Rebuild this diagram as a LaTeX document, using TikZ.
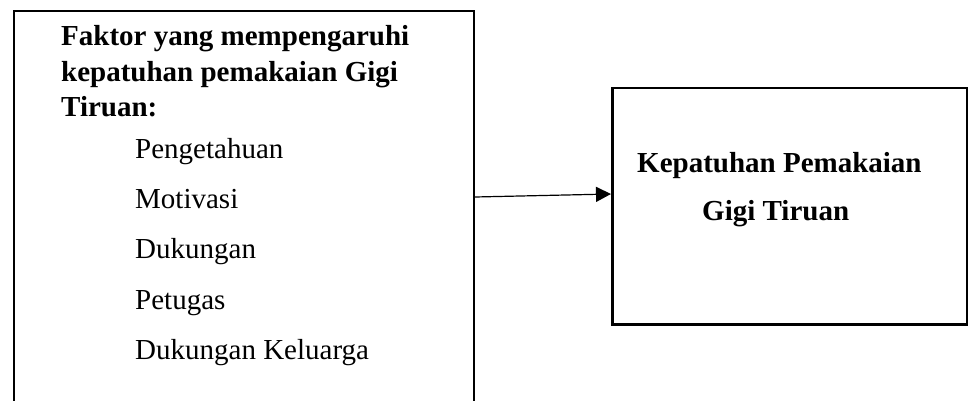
\documentclass[tikz,border=0pt]{standalone}
\usepackage{fontspec}
\setmainfont{Liberation Serif}
\usetikzlibrary{arrows.meta,calc}
\begin{document}
\begin{tikzpicture}[x=1pt,y=1pt,
  box/.style={draw=black,line width=2.5pt,rectangle,inner sep=0pt,anchor=north west},
  txt/.style={anchor=base west,inner sep=0pt,font=\fontsize{29}{35}\selectfont},
  btxt/.style={txt,font=\fontsize{29}{35}\selectfont\bfseries},
  conn/.style={line width=1.2pt,-{Triangle[length=15pt,width=15pt]}}]
\useasboundingbox (0,0) rectangle (968,-401);
\clip (0,0) rectangle (968,-401);
\node[box,minimum width=460pt,minimum height=430pt] (L) at (12.5,-10) {};
\node[box,minimum width=355pt,minimum height=236pt] (R) at (611,-87) {};
\node[btxt] (h1) at (61,-46) {Faktor yang mempengaruhi};
\node[btxt] (h2) at (61,-81.5) {kepatuhan pemakaian Gigi};
\node[btxt] (h3) at (61,-117) {Tiruan:};
\node[txt] (i1) at (135,-158) {Pengetahuan};
\node[txt] (i2) at (135,-208) {Motivasi};
\node[txt] (i3) at (135,-258.5) {Dukungan};
\node[txt] (i4) at (135,-309) {Petugas};
\node[txt] (i5) at (135,-359) {Dukungan Keluarga};
\node[btxt] (r1) at (637,-172) {Kepatuhan Pemakaian};
\node[btxt] (r2) at (702,-220) {Gigi Tiruan};
\draw[conn] ($(L.north east)+(0,-187)$) -- ($(R.north west)+(0,-107)$);
\end{tikzpicture}
\end{document}
